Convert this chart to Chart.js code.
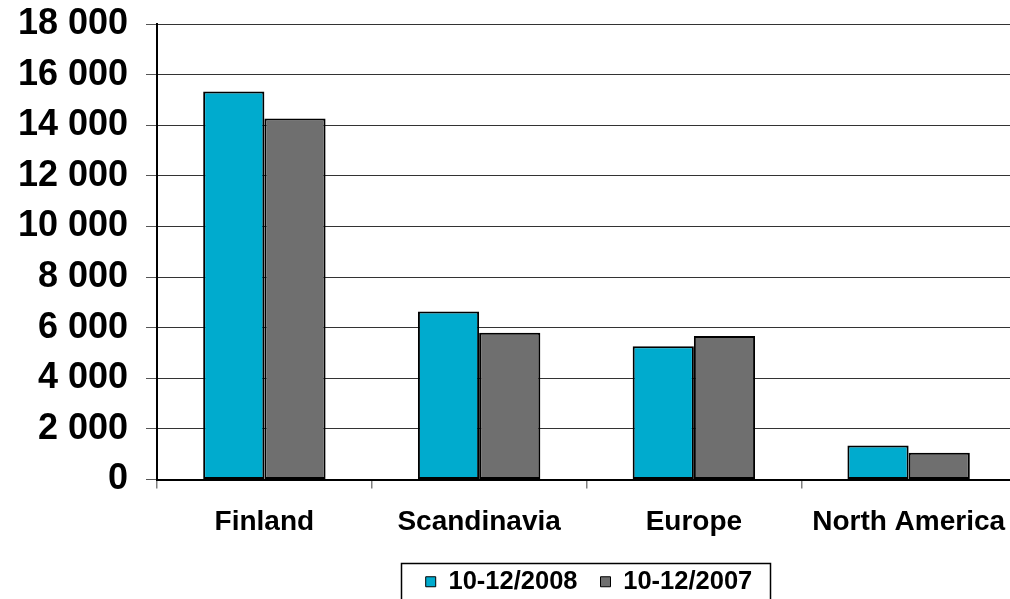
<!DOCTYPE html>
<html>
<head>
<meta charset="utf-8">
<script src="https://cdn.jsdelivr.net/npm/chart.js@4/dist/chart.umd.min.js"></script>
<style>
  html, body { margin: 0; padding: 0; background: #fff; overflow: hidden; }
  #wrap { width: 1016px; height: 599px; }
</style>
</head>
<body>
<div id="wrap"><canvas id="c"></canvas></div>
<script>
const regions = ['Finland', 'Scandinavia', 'Europe', 'North America'];
const q4_2008 = [15330, 6640, 5270, 1340];
const q4_2007 = [14270, 5800, 5670, 1060];
const seriesLabels = ['10-12/2008', '10-12/2007'];
const yTicks = [0, 2000, 4000, 6000, 8000, 10000, 12000, 14000, 16000, 18000];

const FONT = '"Liberation Sans", Arial, sans-serif';

// Move the legend to its place under the plot and frame it with a box
const legendFrame = {
  id: 'legendFrame',
  afterLayout(chart) {
    const lg = chart.legend;
    const h = lg.bottom - lg.top;
    lg.left += 81;
    lg.right += 81;
    lg.top = 546;
    lg.bottom = 546 + h;
  },
  afterDraw(chart) {
    const lg = chart.legend;
    const cx = (lg.left + lg.right) / 2 - 3;
    const ctx = chart.ctx;
    ctx.save();
    ctx.strokeStyle = '#000';
    ctx.lineWidth = 1.5;
    ctx.strokeRect(cx - 184.5, 563.5, 369, 45);
    ctx.restore();
  }
};

new Chart(document.getElementById('c'), {
  type: 'bar',
  data: {
    labels: regions,
    datasets: [
      { label: seriesLabels[0], data: q4_2008, backgroundColor: '#00abce', borderColor: '#000', borderWidth: 2, borderSkipped: false },
      { label: seriesLabels[1], data: q4_2007, backgroundColor: '#6f6f6f', borderColor: '#000', borderWidth: 2, borderSkipped: false }
    ]
  },
  options: {
    responsive: true,
    maintainAspectRatio: false,
    animation: false,
    layout: { padding: { top: 24, right: 0, left: 0, bottom: 0 } },
    datasets: { bar: { categoryPercentage: 0.57, barPercentage: 1.0 } },
    plugins: {
      tooltip: { enabled: false },
      legend: {
        position: 'bottom',
        labels: {
          color: '#000',
          font: { family: FONT, size: 25.5, weight: 'bold' },
          boxWidth: 10,
          boxHeight: 10,
          padding: 23,
          generateLabels(chart) {
            return chart.data.datasets.map((ds, i) => ({
              text: ds.label,
              fillStyle: ds.backgroundColor,
              strokeStyle: '#000',
              lineWidth: 1,
              datasetIndex: i,
              hidden: false
            }));
          }
        }
      }
    },
    scales: {
      x: {
        grid: { display: true, drawOnChartArea: false, drawTicks: true, tickLength: 9, color: '#808080', lineWidth: 1.5 },
        border: { display: true, color: '#000', width: 2 },
        ticks: { color: '#000', font: { family: FONT, size: 28, weight: 'bold' }, padding: 17, maxRotation: 0 },
        afterFit(scale) {
          scale.height = 61;
          scale.paddingLeft = 0;
          scale.paddingRight = 0;
        }
      },
      y: {
        min: 0,
        max: 18000,
        afterBuildTicks(scale) { scale.ticks = yTicks.map(v => ({ value: v })); },
        grid: { color: '#333', lineWidth: 1, drawTicks: true, tickLength: 11, tickColor: '#555' },
        border: { display: true, color: '#000', width: 2 },
        ticks: {
          color: '#000',
          font: { family: FONT, size: 36, weight: 'bold' },
          padding: 18,
          callback: v => v.toLocaleString('en-US').replace(/,/g, ' ')
        },
        afterFit(scale) {
          scale.width = 157;
          scale.paddingTop = 0;
          scale.paddingBottom = 0;
        }
      }
    }
  },
  plugins: [legendFrame]
});
</script>
</body>
</html>
